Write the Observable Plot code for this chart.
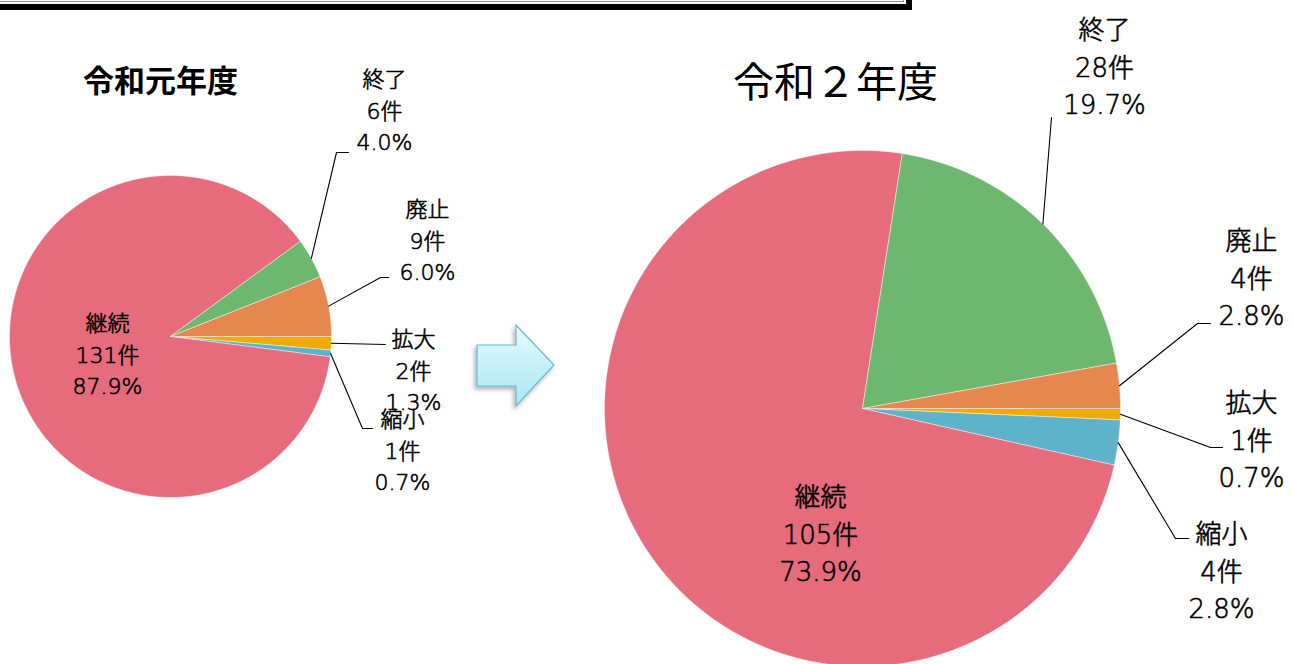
<!DOCTYPE html>
<html lang="ja">
<head>
<meta charset="utf-8">
<script src="https://cdn.jsdelivr.net/npm/d3@7"></script>
<script src="https://cdn.jsdelivr.net/npm/@observablehq/plot@0.6"></script>
<style>
  html, body { margin: 0; padding: 0; background: #fff; }
  #wrap { position: relative; width: 1294px; height: 664px; overflow: hidden; }
  #frame { position: absolute; left: -12px; top: -24px; width: 916px; height: 26px;
           border: 2px solid #000; background: #fff; box-shadow: 4px 4px 0 #000;
           outline: 1px solid #999; outline-offset: -5px; }
  #arrow { position: absolute; left: 470px; top: 318px; }
  #chart { position: absolute; left: 0; top: 0; }
</style>
</head>
<body>
<div id="wrap">
  <div id="chart"></div>
  <div id="frame"></div>
  <svg id="arrow" width="100" height="100" viewBox="0 0 100 100">
    <defs>
      <linearGradient id="ag" x1="0" y1="0" x2="0" y2="1">
        <stop offset="0" stop-color="#e6fbfe"/>
        <stop offset="1" stop-color="#a9e6f2"/>
      </linearGradient>
      <filter id="sh" x="-20%" y="-20%" width="140%" height="140%">
        <feDropShadow dx="-2" dy="3" stdDeviation="2" flood-color="#000" flood-opacity="0.3"/>
      </filter>
    </defs>
    <polygon points="7,27 46,27 46,7 84,47 46,88 46,68 7,68"
             fill="url(#ag)" stroke="#62b9d2" stroke-width="1.2" filter="url(#sh)"/>
  </svg>
</div>
<script>
// ---- data ----
const categories = ["拡大", "縮小", "継続", "終了", "廃止"];
const counts2019 = [2, 1, 131, 6, 9];
const percents2019 = [1.3, 0.7, 87.9, 4.0, 6.0];
const counts2020 = [1, 4, 105, 28, 4];
const percents2020 = [0.7, 2.8, 73.9, 19.7, 2.8];
const titles = ["令和元年度", "令和２年度"];

// ---- styles / layout ----
const palette = {"拡大": "#f0aa00", "縮小": "#5eb3cb", "継続": "#e56b7d", "終了": "#6db76f", "廃止": "#e6874f"};
const labelFont = "'DejaVu Sans', 'Noto Sans CJK JP', sans-serif";
const layout = [
  {cx: 170, cy: 336, r: 161, fontSize: 22, lineHeight: 1.42,
   title: {x: 160, y: 82, size: 31, weight: 700},
   labels: {
     "拡大": {tx: 413, ty: 368, elbow: [385, 344], end: [385, 344]},
     "縮小": {tx: 402, ty: 448, elbow: [362, 428], end: [372, 428]},
     "継続": {tx: 107, ty: 352},
     "終了": {tx: 384, ty: 108, elbow: [336, 152], end: [348, 152]},
     "廃止": {tx: 427, ty: 238, elbow: [380, 277], end: [388, 277]}
   }},
  {cx: 862, cy: 408, r: 258, fontSize: 26, lineHeight: 1.45,
   title: {x: 835, y: 83, size: 41, weight: 400},
   labels: {
     "拡大": {tx: 1251, ty: 437, elbow: [1210, 447], end: [1222, 447]},
     "縮小": {tx: 1221, ty: 568, elbow: [1175, 538], end: [1188, 538]},
     "継続": {tx: 820, ty: 531},
     "終了": {tx: 1104, ty: 64, elbow: [1051, 117], end: [1051, 117]},
     "廃止": {tx: 1251, ty: 275, elbow: [1197, 323], end: [1210, 323]}
   }}
];

const years = [
  {counts: counts2019, percents: percents2019},
  {counts: counts2020, percents: percents2020}
];

const slicePts = [], leaderPts = [], labelRows = [], titleRows = [];
years.forEach((yr, i) => {
  const L = layout[i];
  const arcs = d3.pie().sort(null).value(d => d)
    .startAngle(Math.PI / 2).endAngle(Math.PI / 2 + 2 * Math.PI)(yr.counts);
  arcs.forEach((a, j) => {
    const cat = categories[j];
    const key = i + "-" + cat;
    slicePts.push({key, color: palette[cat], x: L.cx, y: L.cy});
    const n = Math.max(2, Math.ceil((a.endAngle - a.startAngle) / 0.005));
    for (let k = 0; k <= n; k++) {
      const t = a.startAngle + (a.endAngle - a.startAngle) * k / n;
      slicePts.push({key, color: palette[cat], x: L.cx + L.r * Math.sin(t), y: L.cy - L.r * Math.cos(t)});
    }
    slicePts.push({key, color: palette[cat], x: L.cx, y: L.cy});
    const lab = L.labels[cat];
    labelRows.push({x: lab.tx, y: lab.ty, size: L.fontSize, lh: L.lineHeight,
      text: cat + "\n" + yr.counts[j] + "件\n" + yr.percents[j].toFixed(1) + "%"});
    if (lab.elbow) {
      const m = (a.startAngle + a.endAngle) / 2;
      const sx = L.cx + L.r * Math.sin(m), sy = L.cy - L.r * Math.cos(m);
      leaderPts.push({key, x: sx, y: sy}, {key, x: lab.elbow[0], y: lab.elbow[1]}, {key, x: lab.end[0], y: lab.end[1]});
    }
  });
  titleRows.push({x: L.title.x, y: L.title.y, size: L.title.size, weight: L.title.weight, text: titles[i]});
});

const textMarks = [];
labelRows.forEach(r => textMarks.push(Plot.text([r], {
  x: "x", y: "y", text: "text", fontSize: r.size, lineHeight: r.lh, lineAnchor: "middle",
  textAnchor: "middle", fontFamily: labelFont, fontWeight: 300, fill: "#000",
  stroke: "#000", strokeWidth: 0.6, letterSpacing: "0.14em"
})));
titleRows.forEach(r => textMarks.push(Plot.text([r], {
  x: "x", y: "y", text: "text", fontSize: r.size, fontWeight: r.weight, lineAnchor: "middle",
  textAnchor: "middle", fontFamily: "'Noto Sans CJK JP', sans-serif", fill: "#000"
})));

const chart = Plot.plot({
  width: 1294, height: 664, margin: 0,
  x: {domain: [0, 1294], range: [0, 1294], axis: null},
  y: {domain: [0, 664], range: [0, 664], axis: null},
  color: {type: "identity"},
  style: {background: "transparent"},
  marks: [
    Plot.line(slicePts, {x: "x", y: "y", z: "key", fill: "color", stroke: "#ffffff", strokeOpacity: 0.55, strokeWidth: 0.8, curve: "linear-closed"}),
    Plot.line(leaderPts, {x: "x", y: "y", z: "key", stroke: "#000", strokeWidth: 1.1}),
    ...textMarks
  ]
});
document.getElementById("chart").appendChild(chart);
</script>
</body>
</html>
